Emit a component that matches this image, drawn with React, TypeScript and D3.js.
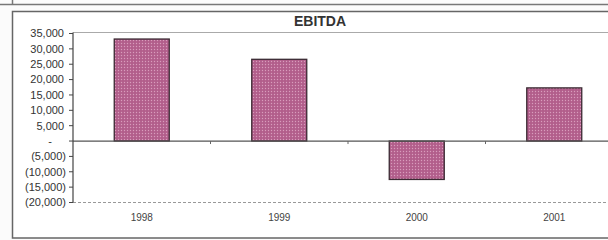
import React from 'react';
import * as d3 from 'd3';

const years = ['1998', '1999', '2000', '2001'];
const ebitda = [33200, 26600, -12500, 17300];
const yTicks = [35000, 30000, 25000, 20000, 15000, 10000, 5000, 0, -5000, -10000, -15000, -20000];

const width = 608;
const height = 240;
const pad = { left: 73, right: -15, top: 33.5, bottom: 37.5 };

const fmt = d3.format(',');
const tickLabel = (d: number) => (d === 0 ? '-' : d < 0 ? `(${fmt(-d)})` : fmt(d));

export default function App() {
  const xScale = d3
    .scaleBand<string>()
    .domain(years)
    .range([pad.left, width - pad.right])
    .paddingInner(0.6)
    .paddingOuter(0.3);

  const yScale = d3
    .scaleLinear()
    .domain([-20000, 35000])
    .range([height - pad.bottom, pad.top]);

  const y0 = yScale(0);
  const step = xScale.step();
  const x0 = pad.left;
  const bounds = years.map((_, i) => x0 + step * (i + 1));

  return (
    <svg
      width={width}
      height={height}
      style={{ position: 'absolute', left: 0, top: 0, background: '#fbfbfb' }}
      fontFamily="Arial, 'Liberation Sans', sans-serif"
    >
      <defs>
        <pattern id="dots" width="3" height="3" patternUnits="userSpaceOnUse">
          <rect width="3" height="3" fill="#b25e8b" />
          <circle cx="1.5" cy="1.5" r="0.7" fill="#d99cbc" />
        </pattern>
      </defs>

      {/* scanned page frame */}
      <line x1={0} x2={width} y1={4.5} y2={4.5} stroke="#777" strokeWidth={1.5} />
      <line x1={12.5} x2={12.5} y1={0} y2={4.5} stroke="#777" strokeWidth={1.5} />
      <rect x={12.5} y={11.5} width={width} height={226.5} fill="#fff" stroke="#666" strokeWidth={1.5} />

      <text x={320} y={26} textAnchor="middle" fontSize={14} fontWeight="bold" fill="#333">
        EBITDA
      </text>

      {/* plot area border */}
      <line x1={pad.left} x2={width} y1={pad.top - 1} y2={pad.top - 1} stroke="#aaa" />
      <line
        x1={pad.left}
        x2={width}
        y1={yScale(-20000)}
        y2={yScale(-20000)}
        stroke="#999"
        strokeDasharray="3,2"
      />

      {/* bars */}
      {years.map((yr, i) => {
        const v = ebitda[i];
        const y = Math.min(yScale(v), y0);
        const h = Math.abs(yScale(v) - y0);
        return (
          <rect
            key={yr}
            x={xScale(yr)}
            y={y}
            width={xScale.bandwidth()}
            height={h}
            fill="url(#dots)"
            stroke="#3a2a32"
            strokeWidth={1.3}
          />
        );
      })}

      {/* zero line with category ticks */}
      <line x1={pad.left} x2={width} y1={y0} y2={y0} stroke="#555" strokeWidth={1.2} />
      {bounds.map((b, i) => (
        <line key={i} x1={b} x2={b} y1={y0} y2={y0 + 3} stroke="#666" />
      ))}

      {/* y axis */}
      <line x1={pad.left} x2={pad.left} y1={pad.top - 1} y2={yScale(-20000)} stroke="#444" strokeWidth={1.2} />
      {yTicks.map((t) => (
        <g key={t} transform={`translate(0,${yScale(t)})`}>
          <line x1={pad.left - 4} x2={pad.left} stroke="#444" />
          <text
            x={t === 0 ? 50 : t < 0 ? 66 : 64}
            dy="0.35em"
            textAnchor={t === 0 ? 'middle' : 'end'}
            fontSize={11}
            fill="#333"
          >
            {tickLabel(t)}
          </text>
        </g>
      ))}

      {/* x labels */}
      {years.map((yr) => (
        <text
          key={yr}
          x={(xScale(yr) || 0) + xScale.bandwidth() / 2}
          y={221}
          textAnchor="middle"
          fontSize={10}
          fill="#444"
        >
          {yr}
        </text>
      ))}
    </svg>
  );
}
